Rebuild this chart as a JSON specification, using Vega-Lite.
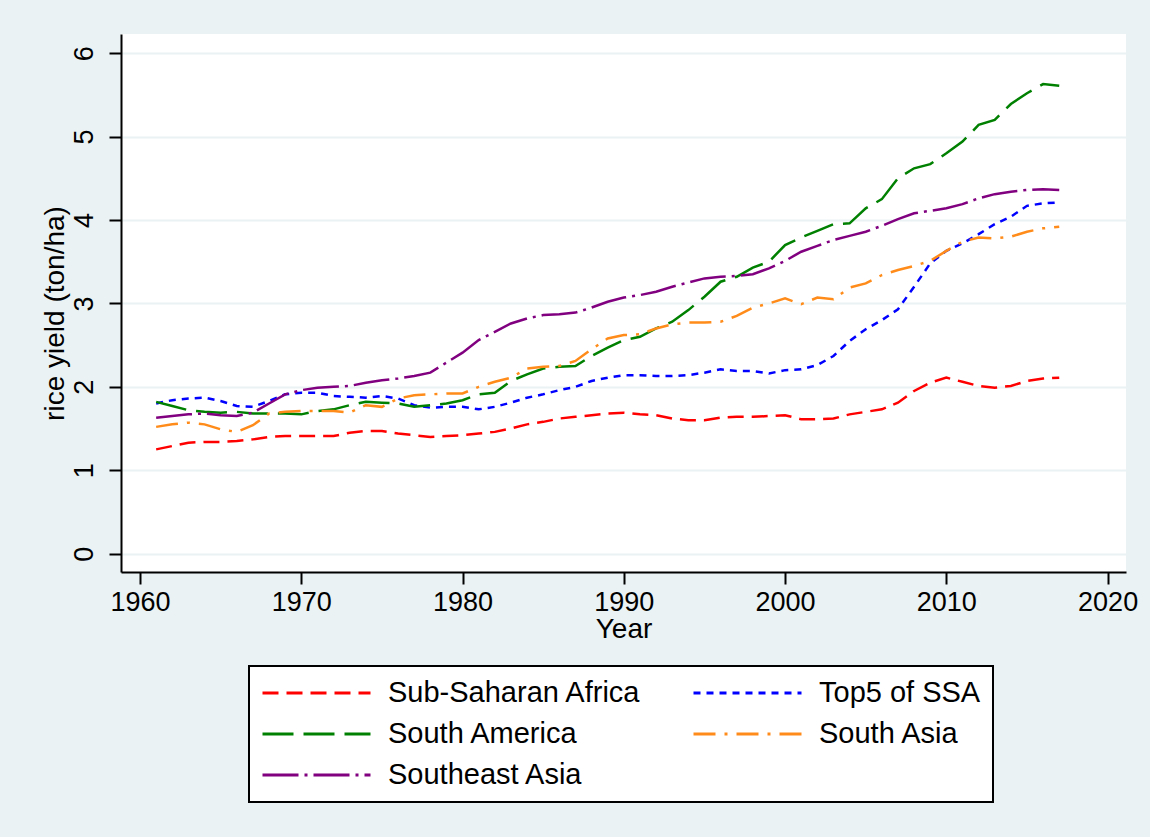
{
  "$schema": "https://vega.github.io/schema/vega-lite/v6.json",
  "width": 1005,
  "height": 538,
  "autosize": {"type": "none"},
  "padding": {"left": 121, "top": 34, "right": 24, "bottom": 265},
  "background": "#EAF2F3",
  "config": {
    "view": {"fill": "white", "stroke": null},
    "font": "Liberation Sans",
    "legend": {
      "orient": "none",
      "legendX": 128,
      "legendY": 632,
      "direction": "horizontal",
      "columns": 2,
      "symbolType": "M-1,0H7",
      "symbolSize": 729,
      "symbolStrokeWidth": 3,
      "labelFontSize": 29,
      "labelColor": "black",
      "labelOffset": 97,
      "labelLimit": 500,
      "rowPadding": 11,
      "columnPadding": 45,
      "padding": 12,
      "strokeColor": "black",
      "strokeWidth": 2,
      "fillColor": "white"
    }
  },
  "data": {"values": [
    {"year": 1961, "Sub-Saharan Africa": 1.25, "Top5 of SSA": 1.80, "South America": 1.82, "South Asia": 1.52, "Southeast Asia": 1.63},
    {"year": 1962, "Sub-Saharan Africa": 1.29, "Top5 of SSA": 1.84, "South America": 1.77, "South Asia": 1.55, "Southeast Asia": 1.65},
    {"year": 1963, "Sub-Saharan Africa": 1.33, "Top5 of SSA": 1.86, "South America": 1.72, "South Asia": 1.57, "Southeast Asia": 1.67},
    {"year": 1964, "Sub-Saharan Africa": 1.34, "Top5 of SSA": 1.87, "South America": 1.70, "South Asia": 1.55, "Southeast Asia": 1.68},
    {"year": 1965, "Sub-Saharan Africa": 1.34, "Top5 of SSA": 1.83, "South America": 1.69, "South Asia": 1.49, "Southeast Asia": 1.66},
    {"year": 1966, "Sub-Saharan Africa": 1.35, "Top5 of SSA": 1.77, "South America": 1.70, "South Asia": 1.46, "Southeast Asia": 1.65},
    {"year": 1967, "Sub-Saharan Africa": 1.37, "Top5 of SSA": 1.76, "South America": 1.68, "South Asia": 1.54, "Southeast Asia": 1.69},
    {"year": 1968, "Sub-Saharan Africa": 1.40, "Top5 of SSA": 1.83, "South America": 1.68, "South Asia": 1.68, "Southeast Asia": 1.80},
    {"year": 1969, "Sub-Saharan Africa": 1.41, "Top5 of SSA": 1.91, "South America": 1.68, "South Asia": 1.70, "Southeast Asia": 1.91},
    {"year": 1970, "Sub-Saharan Africa": 1.41, "Top5 of SSA": 1.93, "South America": 1.67, "South Asia": 1.71, "Southeast Asia": 1.96},
    {"year": 1971, "Sub-Saharan Africa": 1.41, "Top5 of SSA": 1.93, "South America": 1.71, "South Asia": 1.71, "Southeast Asia": 1.99},
    {"year": 1972, "Sub-Saharan Africa": 1.41, "Top5 of SSA": 1.89, "South America": 1.73, "South Asia": 1.71, "Southeast Asia": 2.00},
    {"year": 1973, "Sub-Saharan Africa": 1.45, "Top5 of SSA": 1.88, "South America": 1.78, "South Asia": 1.69, "Southeast Asia": 2.01},
    {"year": 1974, "Sub-Saharan Africa": 1.47, "Top5 of SSA": 1.87, "South America": 1.82, "South Asia": 1.78, "Southeast Asia": 2.05},
    {"year": 1975, "Sub-Saharan Africa": 1.47, "Top5 of SSA": 1.89, "South America": 1.81, "South Asia": 1.76, "Southeast Asia": 2.08},
    {"year": 1976, "Sub-Saharan Africa": 1.44, "Top5 of SSA": 1.86, "South America": 1.80, "South Asia": 1.86, "Southeast Asia": 2.10},
    {"year": 1977, "Sub-Saharan Africa": 1.42, "Top5 of SSA": 1.78, "South America": 1.76, "South Asia": 1.90, "Southeast Asia": 2.13},
    {"year": 1978, "Sub-Saharan Africa": 1.40, "Top5 of SSA": 1.75, "South America": 1.78, "South Asia": 1.91, "Southeast Asia": 2.17},
    {"year": 1979, "Sub-Saharan Africa": 1.41, "Top5 of SSA": 1.76, "South America": 1.80, "South Asia": 1.92, "Southeast Asia": 2.29},
    {"year": 1980, "Sub-Saharan Africa": 1.42, "Top5 of SSA": 1.76, "South America": 1.84, "South Asia": 1.92, "Southeast Asia": 2.41},
    {"year": 1981, "Sub-Saharan Africa": 1.44, "Top5 of SSA": 1.73, "South America": 1.91, "South Asia": 2.00, "Southeast Asia": 2.56},
    {"year": 1982, "Sub-Saharan Africa": 1.46, "Top5 of SSA": 1.76, "South America": 1.93, "South Asia": 2.06, "Southeast Asia": 2.66},
    {"year": 1983, "Sub-Saharan Africa": 1.50, "Top5 of SSA": 1.81, "South America": 2.07, "South Asia": 2.11, "Southeast Asia": 2.76},
    {"year": 1984, "Sub-Saharan Africa": 1.55, "Top5 of SSA": 1.87, "South America": 2.15, "South Asia": 2.22, "Southeast Asia": 2.82},
    {"year": 1985, "Sub-Saharan Africa": 1.58, "Top5 of SSA": 1.91, "South America": 2.22, "South Asia": 2.24, "Southeast Asia": 2.86},
    {"year": 1986, "Sub-Saharan Africa": 1.62, "Top5 of SSA": 1.96, "South America": 2.24, "South Asia": 2.25, "Southeast Asia": 2.87},
    {"year": 1987, "Sub-Saharan Africa": 1.64, "Top5 of SSA": 2.00, "South America": 2.25, "South Asia": 2.31, "Southeast Asia": 2.89},
    {"year": 1988, "Sub-Saharan Africa": 1.66, "Top5 of SSA": 2.07, "South America": 2.37, "South Asia": 2.45, "Southeast Asia": 2.95},
    {"year": 1989, "Sub-Saharan Africa": 1.68, "Top5 of SSA": 2.11, "South America": 2.47, "South Asia": 2.58, "Southeast Asia": 3.02},
    {"year": 1990, "Sub-Saharan Africa": 1.69, "Top5 of SSA": 2.14, "South America": 2.56, "South Asia": 2.62, "Southeast Asia": 3.07},
    {"year": 1991, "Sub-Saharan Africa": 1.67, "Top5 of SSA": 2.14, "South America": 2.60, "South Asia": 2.63, "Southeast Asia": 3.10},
    {"year": 1992, "Sub-Saharan Africa": 1.66, "Top5 of SSA": 2.13, "South America": 2.70, "South Asia": 2.70, "Southeast Asia": 3.14},
    {"year": 1993, "Sub-Saharan Africa": 1.62, "Top5 of SSA": 2.13, "South America": 2.78, "South Asia": 2.75, "Southeast Asia": 3.20},
    {"year": 1994, "Sub-Saharan Africa": 1.60, "Top5 of SSA": 2.14, "South America": 2.92, "South Asia": 2.77, "Southeast Asia": 3.25},
    {"year": 1995, "Sub-Saharan Africa": 1.60, "Top5 of SSA": 2.17, "South America": 3.08, "South Asia": 2.77, "Southeast Asia": 3.30},
    {"year": 1996, "Sub-Saharan Africa": 1.63, "Top5 of SSA": 2.21, "South America": 3.26, "South Asia": 2.78, "Southeast Asia": 3.32},
    {"year": 1997, "Sub-Saharan Africa": 1.64, "Top5 of SSA": 2.19, "South America": 3.32, "South Asia": 2.85, "Southeast Asia": 3.33},
    {"year": 1998, "Sub-Saharan Africa": 1.64, "Top5 of SSA": 2.19, "South America": 3.43, "South Asia": 2.95, "Southeast Asia": 3.35},
    {"year": 1999, "Sub-Saharan Africa": 1.65, "Top5 of SSA": 2.16, "South America": 3.50, "South Asia": 3.00, "Southeast Asia": 3.42},
    {"year": 2000, "Sub-Saharan Africa": 1.66, "Top5 of SSA": 2.20, "South America": 3.70, "South Asia": 3.06, "Southeast Asia": 3.51},
    {"year": 2001, "Sub-Saharan Africa": 1.61, "Top5 of SSA": 2.21, "South America": 3.79, "South Asia": 2.99, "Southeast Asia": 3.62},
    {"year": 2002, "Sub-Saharan Africa": 1.61, "Top5 of SSA": 2.26, "South America": 3.87, "South Asia": 3.07, "Southeast Asia": 3.69},
    {"year": 2003, "Sub-Saharan Africa": 1.62, "Top5 of SSA": 2.37, "South America": 3.95, "South Asia": 3.05, "Southeast Asia": 3.76},
    {"year": 2004, "Sub-Saharan Africa": 1.67, "Top5 of SSA": 2.55, "South America": 3.96, "South Asia": 3.19, "Southeast Asia": 3.81},
    {"year": 2005, "Sub-Saharan Africa": 1.70, "Top5 of SSA": 2.69, "South America": 4.14, "South Asia": 3.24, "Southeast Asia": 3.86},
    {"year": 2006, "Sub-Saharan Africa": 1.73, "Top5 of SSA": 2.80, "South America": 4.25, "South Asia": 3.34, "Southeast Asia": 3.93},
    {"year": 2007, "Sub-Saharan Africa": 1.81, "Top5 of SSA": 2.93, "South America": 4.50, "South Asia": 3.40, "Southeast Asia": 4.01},
    {"year": 2008, "Sub-Saharan Africa": 1.95, "Top5 of SSA": 3.20, "South America": 4.62, "South Asia": 3.45, "Southeast Asia": 4.08},
    {"year": 2009, "Sub-Saharan Africa": 2.05, "Top5 of SSA": 3.48, "South America": 4.67, "South Asia": 3.51, "Southeast Asia": 4.11},
    {"year": 2010, "Sub-Saharan Africa": 2.11, "Top5 of SSA": 3.63, "South America": 4.80, "South Asia": 3.63, "Southeast Asia": 4.14},
    {"year": 2011, "Sub-Saharan Africa": 2.06, "Top5 of SSA": 3.72, "South America": 4.94, "South Asia": 3.74, "Southeast Asia": 4.19},
    {"year": 2012, "Sub-Saharan Africa": 2.01, "Top5 of SSA": 3.83, "South America": 5.14, "South Asia": 3.79, "Southeast Asia": 4.26},
    {"year": 2013, "Sub-Saharan Africa": 1.99, "Top5 of SSA": 3.95, "South America": 5.20, "South Asia": 3.78, "Southeast Asia": 4.31},
    {"year": 2014, "Sub-Saharan Africa": 2.01, "Top5 of SSA": 4.04, "South America": 5.39, "South Asia": 3.80, "Southeast Asia": 4.34},
    {"year": 2015, "Sub-Saharan Africa": 2.07, "Top5 of SSA": 4.17, "South America": 5.52, "South Asia": 3.86, "Southeast Asia": 4.36},
    {"year": 2016, "Sub-Saharan Africa": 2.10, "Top5 of SSA": 4.20, "South America": 5.63, "South Asia": 3.90, "Southeast Asia": 4.37},
    {"year": 2017, "Sub-Saharan Africa": 2.11, "Top5 of SSA": 4.21, "South America": 5.61, "South Asia": 3.92, "Southeast Asia": 4.36}
  ]},
  "transform": [
    {"fold": ["Sub-Saharan Africa", "Top5 of SSA", "South America", "South Asia", "Southeast Asia"], "as": ["region", "yield"]}
  ],
  "mark": {"type": "line", "strokeWidth": 2.5, "clip": true},
  "encoding": {
    "x": {
      "field": "year",
      "type": "quantitative",
      "scale": {"domain": [1958.82, 2021.14], "nice": false, "zero": false},
      "axis": {
        "values": [1960, 1970, 1980, 1990, 2000, 2010, 2020],
        "format": "d",
        "title": "Year",
        "grid": false,
        "domainColor": "black",
        "domainWidth": 2,
        "tickColor": "black",
        "tickWidth": 2,
        "tickSize": 12,
        "labelFontSize": 27,
        "labelColor": "black",
        "labelPadding": 5,
        "labelFlush": false,
        "titleFontSize": 28,
        "titleFontWeight": "normal",
        "titleColor": "black",
        "titlePadding": 0
      }
    },
    "y": {
      "field": "yield",
      "type": "quantitative",
      "scale": {"domain": [-0.22, 6.23], "nice": false, "zero": false},
      "axis": {
        "values": [0, 1, 2, 3, 4, 5, 6],
        "title": "rice yield (ton/ha)",
        "grid": true,
        "gridColor": "#EAF2F3",
        "gridWidth": 2,
        "domainColor": "black",
        "domainWidth": 2,
        "tickColor": "black",
        "tickWidth": 2,
        "tickSize": 12,
        "labelAngle": 270,
        "labelAlign": "center",
        "labelBaseline": "alphabetic",
        "labelPadding": 17,
        "labelFontSize": 27,
        "labelColor": "black",
        "labelFlush": false,
        "titleFontSize": 28,
        "titleFontWeight": "normal",
        "titleColor": "black",
        "titleAngle": 270,
        "titleAlign": "center",
        "titleBaseline": "alphabetic",
        "titleX": -58,
        "titleY": 279
      }
    },
    "color": {
      "field": "region",
      "type": "nominal",
      "scale": {
        "domain": ["Sub-Saharan Africa", "Top5 of SSA", "South America", "South Asia", "Southeast Asia"],
        "range": ["#FF0000", "#0000FF", "#008000", "#FF8C1A", "#800080"]
      },
      "legend": {"title": null}
    },
    "strokeDash": {
      "field": "region",
      "type": "nominal",
      "scale": {
        "domain": ["Sub-Saharan Africa", "Top5 of SSA", "South America", "South Asia", "Southeast Asia"],
        "range": [[16, 8], [7, 6], [31, 10], [22, 9, 3, 9], [36, 6, 3, 6]]
      },
      "legend": {"title": null}
    }
  }
}
